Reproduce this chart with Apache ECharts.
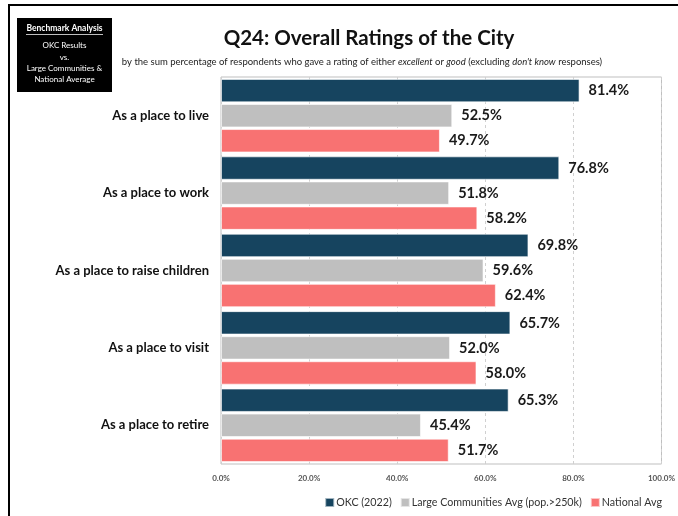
<!DOCTYPE html>
<html>
<head>
<meta charset="utf-8">
<script src="https://cdn.jsdelivr.net/npm/echarts@6/dist/echarts.min.js"></script>
<style>
  html, body { margin: 0; padding: 0; background: #fff; }
  #chart { width: 678px; height: 516px; }
</style>
</head>
<body>
<div id="chart"></div>
<script>
const categories = ['As a place to live', 'As a place to work', 'As a place to raise children', 'As a place to visit', 'As a place to retire'];
const okcValues = [81.4, 76.8, 69.8, 65.7, 65.3];
const largeValues = [52.5, 51.8, 59.6, 52.0, 45.4];
const nationalValues = [49.7, 58.2, 62.4, 58.0, 51.7];
const seriesNames = ['OKC (2022)', 'Large Communities Avg (pop.>250k)', 'National Avg'];
const colors = ['#16445f', '#bfbfbf', '#f87272'];

const fontFamily = 'Lato, "Open Sans", sans-serif';

var chartDom = document.getElementById('chart');
var myChart = echarts.init(chartDom);

function makeSeries(name, data, color) {
  return {
    name: name,
    type: 'bar',
    data: data,
    barGap: '7%',
    barCategoryGap: '5%',
    itemStyle: {
      color: color,
      borderColor: 'rgba(255,255,255,0.6)',
      borderWidth: 1
    },
    label: {
      show: true,
      position: 'right',
      distance: 9,
      color: '#1a1a1a',
      fontWeight: 'bold',
      fontSize: 14.5,
      fontFamily: fontFamily,
      formatter: function (p) { return p.value.toFixed(1) + '%'; }
    }
  };
}

var option = {
  animation: false,
  color: colors,
  textStyle: { fontFamily: fontFamily },
  title: {
    text: 'Q24: Overall Ratings of the City',
    left: 364,
    textAlign: 'center',
    top: 23,
    textStyle: { fontSize: 20.5, fontWeight: 'bold', color: '#111', fontFamily: fontFamily }
  },
  graphic: [
    // outer frame (top and left edges visible)
    { type: 'rect', shape: { x: 9, y: 5, width: 700, height: 600 }, style: { fill: 'none', stroke: '#000', lineWidth: 2 } },
    // benchmark box
    { type: 'rect', shape: { x: 17, y: 18, width: 95, height: 74 }, style: { fill: '#000' } },
    { type: 'text', x: 64.5, y: 24, style: { text: 'Benchmark Analysis', fill: '#fff', font: 'bold 8.5px ' + fontFamily, textAlign: 'center' } },
    { type: 'rect', shape: { x: 26, y: 34, width: 77, height: 0.8 }, style: { fill: '#fff' } },
    { type: 'text', x: 64.5, y: 41, style: { text: 'OKC Results', fill: '#fff', font: '8px ' + fontFamily, textAlign: 'center' } },
    { type: 'text', x: 64.5, y: 53, style: { text: 'vs.', fill: '#fff', font: '8px ' + fontFamily, textAlign: 'center' } },
    { type: 'text', x: 64.5, y: 64, style: { text: 'Large Communities &', fill: '#fff', font: '8px ' + fontFamily, textAlign: 'center' } },
    { type: 'text', x: 64.5, y: 75, style: { text: 'National Average', fill: '#fff', font: '8px ' + fontFamily, textAlign: 'center' } },
    // subtitle
    {
      type: 'text', x: 362, y: 57,
      style: {
        text: 'by the sum percentage of respondents who gave a rating of either {i|excellent} or {i|good} (excluding {i|don\'t know} responses)',
        textAlign: 'center',
        fill: '#222',
        font: '9.5px ' + fontFamily,
        rich: { i: { fontStyle: 'italic', fontSize: 9.5, fontFamily: fontFamily, fill: '#222' } }
      }
    }
  ],
  legend: {
    data: seriesNames,
    right: 11,
    top: 492,
    itemWidth: 9,
    itemHeight: 9,
    itemGap: 8,
    icon: 'rect',
    textStyle: { fontSize: 10.7, color: '#333', fontFamily: fontFamily, padding: [0, 0, 0, -3] }
  },
  grid: {
    left: 221,
    right: 14,
    top: 77,
    bottom: 52,
    show: true,
    borderColor: '#bfbfbf',
    borderWidth: 1,
    containLabel: false
  },
  xAxis: {
    type: 'value',
    min: 0,
    max: 100,
    interval: 20,
    axisLine: { show: false },
    axisTick: { show: false },
    axisLabel: {
      margin: 10,
      fontSize: 8,
      fontWeight: 'bold',
      color: '#555',
      fontFamily: fontFamily,
      formatter: function (v) { return v.toFixed(1) + '%'; }
    },
    splitLine: { show: true, lineStyle: { type: [3, 3], color: '#d0d0d0' } }
  },
  yAxis: {
    type: 'category',
    data: categories,
    inverse: true,
    axisLine: { show: false },
    axisTick: { show: false },
    axisLabel: {
      margin: 12,
      fontSize: 13,
      fontWeight: 'bold',
      color: '#111',
      fontFamily: fontFamily
    }
  },
  series: [
    makeSeries(seriesNames[0], okcValues, colors[0]),
    makeSeries(seriesNames[1], largeValues, colors[1]),
    makeSeries(seriesNames[2], nationalValues, colors[2])
  ]
};

option && myChart.setOption(option);
</script>
</body>
</html>
